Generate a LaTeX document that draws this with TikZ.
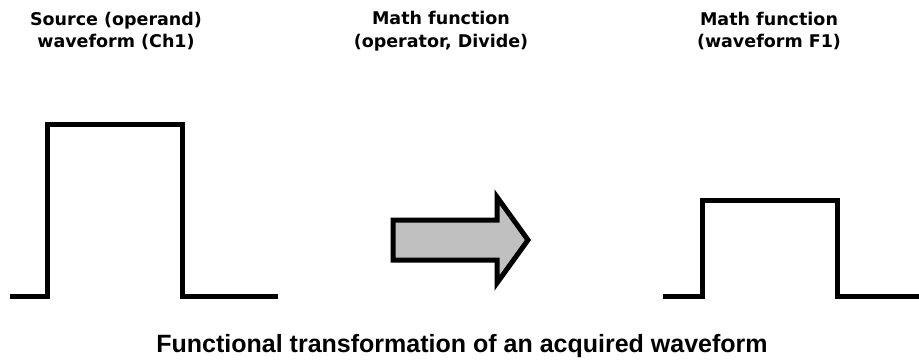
\documentclass[tikz,border=0pt]{standalone}
\usepackage{fontspec}
\setmainfont{Liberation Sans}
\newfontfamily\lblfont{DejaVu Sans}
\begin{document}
\begin{tikzpicture}[x=1pt,y=-1pt,
  wave/.style={line width=5pt,line join=miter,line cap=butt},
  label/.style={font=\lblfont\bfseries\fontsize{17.5}{22.5}\selectfont,align=center,inner sep=0pt},
  caption/.style={font=\bfseries\fontsize{25}{28}\selectfont,inner sep=0pt}]
\useasboundingbox (0,0) rectangle (919,360);
\node[label] (src) at (116,31) {Source (operand)\\waveform (Ch1)};
\node[label] (op) at (441,31) {Math function\\(operator, Divide)};
\node[label] (res) at (769,31) {Math function\\(waveform F1)};
\draw[wave] (10,296.5) -- (47,296.5) -- (47,124) -- (182,124) -- (182,296.5) -- (278,296.5);
\draw[wave] (663,296.5) -- (702,296.5) -- (702,200) -- (837,200) -- (837,296.5) -- (919,296.5);
\draw[line width=5pt,fill={rgb,255:red,192;green,192;blue,192},line join=miter]
  (393,220) -- (497,220) -- (497,197) -- (528,240) -- (497,283) -- (497,260) -- (393,260) -- cycle;
\node[caption] (cap) at (462,346) {Functional transformation of an acquired waveform};
\end{tikzpicture}
\end{document}
